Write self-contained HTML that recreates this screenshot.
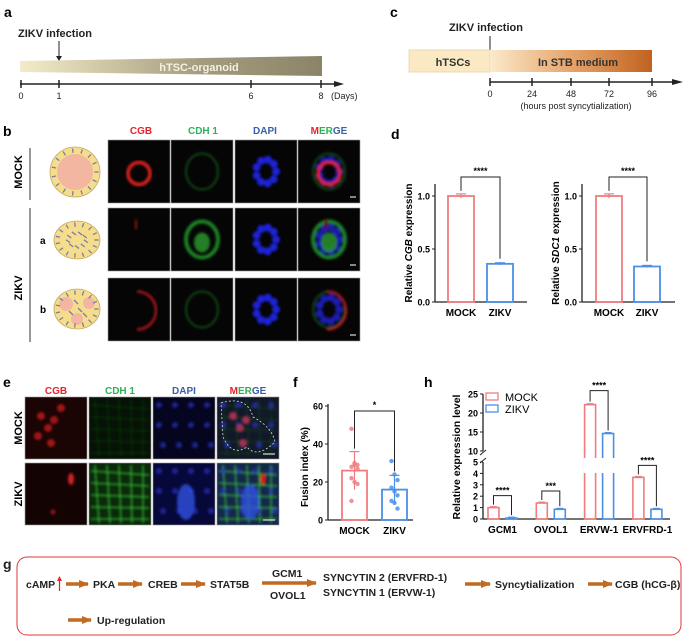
<!DOCTYPE html>
<html><head><meta charset="utf-8"><style>
body{margin:0;background:#fff}
svg{display:block;font-family:"Liberation Sans",Arial,sans-serif}
.b{font-weight:bold}
</style></head><body>
<svg id="fig" width="683" height="637" viewBox="0 0 683 637" xmlns="http://www.w3.org/2000/svg">
<defs>
<linearGradient id="ga" x1="0" x2="1"><stop offset="0" stop-color="#f4ecc8"/><stop offset="0.6" stop-color="#a39c7e"/><stop offset="1" stop-color="#8c8468"/></linearGradient>
<linearGradient id="gc" x1="0" x2="1"><stop offset="0" stop-color="#fbeacb"/><stop offset="0.5" stop-color="#e6a46a"/><stop offset="1" stop-color="#c0621f"/></linearGradient>
<filter id="bl"><feGaussianBlur stdDeviation="1.4"/></filter>
<marker id="ah" markerUnits="userSpaceOnUse" markerWidth="10" markerHeight="8" refX="9" refY="4" orient="auto"><path d="M0,0L10,4L0,8z" fill="#c06a22"/></marker>
</defs>

<!-- panel a -->
<g>
<text x="4" y="17" class="b" font-size="14">a</text>
<text x="18" y="37" class="b" font-size="11" fill="#222">ZIKV infection</text>
<line x1="59" y1="41" x2="59" y2="60" stroke="#222"/><path d="M56,56L59,61L62,56z" fill="#222"/>
<polygon points="20,61 322,56 322,76 20,72" fill="url(#ga)"/>
<text x="199" y="71" text-anchor="middle" class="b" font-size="11" fill="#f5f0e0">hTSC-organoid</text>
<line x1="20" y1="84" x2="338" y2="84" stroke="#222" stroke-width="1.5"/><path d="M334,81L344,84L334,87z" fill="#222"/>
<g stroke="#222" stroke-width="1.5"><line x1="21" y1="80" x2="21" y2="88"/><line x1="59" y1="80" x2="59" y2="88"/><line x1="251" y1="80" x2="251" y2="88"/><line x1="321" y1="80" x2="321" y2="88"/></g>
<g font-size="9" text-anchor="middle" fill="#222"><text x="21" y="99">0</text><text x="59" y="99">1</text><text x="251" y="99">6</text><text x="321" y="99">8</text></g>
<text x="331" y="99" font-size="9" fill="#222">(Days)</text>
</g>

<!-- panel c -->
<g>
<text x="390" y="17" class="b" font-size="14">c</text>
<text x="449" y="31" class="b" font-size="11" fill="#222">ZIKV infection</text>
<line x1="490" y1="36" x2="490" y2="56" stroke="#222"/><path d="M487,52L490,57L493,52z" fill="#222"/>
<rect x="409" y="50" width="81" height="22" fill="#fbe9c4" stroke="#e8d3a8" stroke-width="0.8"/>
<rect x="490" y="50" width="162" height="22" fill="url(#gc)"/>
<text x="453" y="66" text-anchor="middle" class="b" font-size="11" fill="#333">hTSCs</text>
<text x="578" y="66" text-anchor="middle" class="b" font-size="11" fill="#333">In STB medium</text>
<line x1="490" y1="82" x2="676" y2="82" stroke="#222" stroke-width="1.5"/><path d="M672,79L683,82L672,85z" fill="#222"/>
<g stroke="#222" stroke-width="1.5"><line x1="490" y1="78" x2="490" y2="86"/><line x1="532" y1="78" x2="532" y2="86"/><line x1="571" y1="78" x2="571" y2="86"/><line x1="609" y1="78" x2="609" y2="86"/><line x1="652" y1="78" x2="652" y2="86"/></g>
<g font-size="9" text-anchor="middle" fill="#222"><text x="490" y="97">0</text><text x="532" y="97">24</text><text x="571" y="97">48</text><text x="609" y="97">72</text><text x="652" y="97">96</text></g>
<text x="576" y="109" text-anchor="middle" font-size="9" fill="#222">(hours post syncytialization)</text>
</g>

<!-- panel b -->
<g>
<text x="3" y="136" class="b" font-size="14">b</text>
<g class="b" font-size="10" text-anchor="middle"><text x="141" y="134" fill="#e3242b">CGB</text><text x="203" y="134" fill="#2fb05a">CDH 1</text><text x="265" y="134" fill="#3a5fa8">DAPI</text><text x="329" y="134"><tspan fill="#e3242b">M</tspan><tspan fill="#2fb05a">ER</tspan><tspan fill="#3a5fa8">GE</tspan></text></g>
<line x1="30" y1="148" x2="30" y2="200" stroke="#333"/><line x1="30" y1="208" x2="30" y2="342" stroke="#333"/>
<text transform="translate(22,172) rotate(-90)" text-anchor="middle" class="b" font-size="11">MOCK</text>
<text transform="translate(22,288) rotate(-90)" text-anchor="middle" class="b" font-size="11">ZIKV</text>
<text x="40" y="244" class="b" font-size="10">a</text><text x="40" y="313" class="b" font-size="10">b</text>
<g id="cartoons"></g>
<g id="bimgs"></g>
</g>

<!-- panel e -->
<g>
<text x="3" y="387" class="b" font-size="14">e</text>
<g class="b" font-size="10" text-anchor="middle"><text x="56" y="394" fill="#e3242b">CGB</text><text x="120" y="394" fill="#2fb05a">CDH 1</text><text x="184" y="394" fill="#3a5fa8">DAPI</text><text x="248" y="394"><tspan fill="#e3242b">M</tspan><tspan fill="#2fb05a">ER</tspan><tspan fill="#3a5fa8">GE</tspan></text></g>
<text transform="translate(22,428) rotate(-90)" text-anchor="middle" class="b" font-size="11">MOCK</text>
<text transform="translate(22,494) rotate(-90)" text-anchor="middle" class="b" font-size="11">ZIKV</text>
<g id="eimgs"></g>
</g>

<text x="391" y="139" class="b" font-size="14">d</text>
<g id="d1"></g>
<g id="d2"></g>
<text x="293" y="387" class="b" font-size="14">f</text>
<g id="fch"></g>
<text x="424" y="387" class="b" font-size="14">h</text>
<g id="hch"></g>

<!-- panel g -->
<g class="b" font-size="10.5" fill="#222">
<text x="3" y="569" font-size="14">g</text>
<rect x="17" y="557" width="664" height="78" rx="10" fill="none" stroke="#e0353a" stroke-width="1"/>
<text x="26" y="588">cAMP</text>
<line x1="59.5" y1="591" x2="59.5" y2="580" stroke="#e3242b" stroke-width="1.2"/><path d="M57,581L59.5,576L62,581z" fill="#e3242b"/>
<g stroke="#c06a22" stroke-width="3.5" marker-end="url(#ah)">
<line x1="66" y1="584" x2="88" y2="584"/><line x1="118" y1="584" x2="142" y2="584"/><line x1="181" y1="584" x2="205" y2="584"/>
<line x1="262" y1="583" x2="316" y2="583"/><line x1="465" y1="584" x2="490" y2="584"/><line x1="588" y1="584" x2="612" y2="584"/>
<line x1="68" y1="620" x2="91" y2="620"/></g>
<text x="93" y="588">PKA</text><text x="148" y="588">CREB</text><text x="210" y="588">STAT5B</text>
<text x="272" y="577">GCM1</text><text x="270" y="599">OVOL1</text>
<text x="323" y="581">SYNCYTIN 2 (ERVFRD-1)</text><text x="323" y="596">SYNCYTIN 1 (ERVW-1)</text>
<text x="495" y="588">Syncytialization</text><text x="615" y="588">CGB (hCG-β)</text>
<text x="97" y="624">Up-regulation</text>
</g>
</svg>
<script>
const NS="http://www.w3.org/2000/svg";
function mk(p,tag,at){const e=document.createElementNS(NS,tag);for(const k in at)e.setAttribute(k,at[k]);p.appendChild(e);return e;}
const RED="#f07c80",BLUE="#4a90e8";

// ---- chart data ----
const dCategories=["MOCK","ZIKV"];
const dCgbValues=[1.0,0.36];
const dCgbErr=[0.02,0.01];
const dSdcValues=[1.0,0.335];
const dSdcErr=[0.02,0.01];
const dTicks=[0.0,0.5,1.0];
const fCategories=["MOCK","ZIKV"];
const fMeans=[26,16];
const fSD=[10,7.5];
const fMockDots=[48,30,29,28,29,27,22,20,19,10];
const fZikvDots=[31,24,21,17,15,13,10,9,6];
const fTicks=[0,20,40,60];
const hCategories=["GCM1","OVOL1","ERVW-1","ERVFRD-1"];
const hMock=[1.0,1.4,22.2,3.65];
const hZikv=[0.08,0.85,14.6,0.85];
const hSig=["****","***","****","****"];
const hLowTicks=[0,1,2,3,4,5];
const hHighTicks=[10,15,20,25];

function barChart(g,x0,y0,yTop,xEnd,sc,cats,vals,errs,ticks,fmt,title,bars,sig){
  const y=v=>y0-(v-0)*sc;
  mk(g,"line",{x1:x0,y1:yTop,x2:x0,y2:y0,stroke:"#222","stroke-width":1.3});
  mk(g,"line",{x1:x0,y1:y0,x2:xEnd,y2:y0,stroke:"#222","stroke-width":1.3});
  ticks.forEach(t=>{mk(g,"line",{x1:x0-3,y1:y(t),x2:x0,y2:y(t),stroke:"#222"});
    const tx=mk(g,"text",{x:x0-5,y:y(t)+3.5,"text-anchor":"end","font-size":9,"font-weight":"bold"});tx.textContent=fmt(t);});
  const cols=[RED,BLUE];
  cats.forEach((c,i)=>{const [bx,bw]=bars[i];
    const r=mk(g,"rect",{x:bx,y:y(vals[i]),width:bw,height:y0-y(vals[i]),fill:"none",stroke:cols[i],"stroke-width":1.8});
    
    
    const cx=bx+bw/2;
    mk(g,"line",{x1:cx,y1:y(vals[i]+errs[i]),x2:cx,y2:y(vals[i]-errs[i]),stroke:cols[i],"stroke-width":1.2});
    mk(g,"line",{x1:cx-5,y1:y(vals[i]+errs[i]),x2:cx+5,y2:y(vals[i]+errs[i]),stroke:cols[i],"stroke-width":1.2});
    const lt=mk(g,"text",{x:cx,y:y0+14,"text-anchor":"middle","font-size":10,"font-weight":"bold"});lt.textContent=c;});
  if(sig){const c0=bars[0][0]+bars[0][1]/2,c1=bars[1][0]+bars[1][1]/2;
    mk(g,"polyline",{points:`${c0},${y(vals[0]+errs[0])-3} ${c0},${sig.top} ${c1},${sig.top} ${c1},${y(vals[1]+errs[1])-4}`,fill:"none",stroke:"#222","stroke-width":1});
    const st=mk(g,"text",{x:(c0+c1)/2,y:sig.top-3,"text-anchor":"middle","font-size":9,"font-weight":"bold"});st.textContent=sig.text;}
  return y;
}
function dTitle(g,x,yc,it){const t=mk(g,"text",{transform:`translate(${x},${yc}) rotate(-90)`,"text-anchor":"middle","font-size":10,"font-weight":"bold"});
  t.innerHTML='Relative <tspan font-style="italic">'+it+'</tspan> expression';}
barChart(document.getElementById("d1"),435,302,184,527,106,dCategories,dCgbValues,dCgbErr,dTicks,t=>t.toFixed(1),"",[[448,26],[487,26]],{top:177,text:"****"});
dTitle(document.getElementById("d1"),412,243,"CGB");
barChart(document.getElementById("d2"),582,302,184,675,106,dCategories,dSdcValues,dSdcErr,dTicks,t=>t.toFixed(1),"",[[596,26],[634,26]],{top:177,text:"****"});
dTitle(document.getElementById("d2"),559,243,"SDC1");

// f chart
(function(){const g=document.getElementById("fch");
  const y=barChart(g,328,520,404,413,1.9,fCategories,fMeans,fSD,fTicks,t=>String(t),"",[[342,25],[382,25]],{top:411,text:"*"});
  const t=mk(g,"text",{transform:"translate(308,467) rotate(-90)","text-anchor":"middle","font-size":10,"font-weight":"bold"});t.textContent="Fusion index (%)";
  [[fMockDots,354.5,RED],[fZikvDots,394.5,BLUE]].forEach(([d,cx,c])=>d.forEach((v,i)=>{
    const p=mk(g,"circle",{cx:cx+((i%3)-1)*3,cy:y(v),r:2.2,fill:c,opacity:0.85});
    
    }));
})();

// h chart (broken axis)
(function(){const g=document.getElementById("hch");
  const x0=483,y0=519,lowSc=11.4,hiBase=451,hiSc=3.8;
  const y=v=>v<=5?y0-v*lowSc:hiBase-(v-10)*hiSc;
  mk(g,"line",{x1:x0,y1:y0,x2:x0,y2:y(5),stroke:"#222","stroke-width":1.3});
  mk(g,"line",{x1:x0,y1:y(10),x2:x0,y2:y(25),stroke:"#222","stroke-width":1.3});
  mk(g,"line",{x1:x0-3,y1:y(10)+4,x2:x0+3,y2:y(10)-1,stroke:"#222"});
  mk(g,"line",{x1:x0-3,y1:y(5)+1,x2:x0+3,y2:y(5)-4,stroke:"#222"});
  mk(g,"line",{x1:x0,y1:y0,x2:670,y2:y0,stroke:"#222","stroke-width":1.3});
  hLowTicks.concat(hHighTicks).forEach(t=>{mk(g,"line",{x1:x0-3,y1:y(t),x2:x0,y2:y(t),stroke:"#222"});
    const tx=mk(g,"text",{x:x0-5,y:y(t)+3.5,"text-anchor":"end","font-size":9,"font-weight":"bold"});tx.textContent=t;});
  const tt=mk(g,"text",{transform:"translate(460,457) rotate(-90)","text-anchor":"middle","font-size":10.5,"font-weight":"bold"});tt.textContent="Relative expression level";
  hCategories.forEach((c,i)=>{const bx=488+i*48.3;
    [[hMock[i],bx,RED],[hZikv[i],bx+18,BLUE]].forEach(([v,x,col])=>{
      const r=mk(g,"rect",{x:x,y:y(v),width:11,height:y0-y(v),fill:"none",stroke:col,"stroke-width":1.6});
      
      
      mk(g,"line",{x1:x+2,y1:y(v)-1,x2:x+9,y2:y(v)-1,stroke:col,"stroke-width":1});});
    if(hMock[i]>5){mk(g,"rect",{x:bx-1,y:y(5)-4,width:32,height:y(5)-y(10)+4,fill:"#fff"});}
    const top=y(Math.max(hMock[i],hZikv[i]))-(hMock[i]>5?14:12);
    mk(g,"polyline",{points:`${bx+5.5},${y(hMock[i])-3} ${bx+5.5},${top} ${bx+23.5},${top} ${bx+23.5},${y(hZikv[i])-3}`,fill:"none",stroke:"#222","stroke-width":1});
    const s=mk(g,"text",{x:bx+14.5,y:top-2,"text-anchor":"middle","font-size":9,"font-weight":"bold"});s.textContent=hSig[i];
    const l=mk(g,"text",{x:bx+14.5,y:533,"text-anchor":"middle","font-size":10,"font-weight":"bold"});l.textContent=c;});
  mk(g,"rect",{x:486,y:393,width:12,height:7,fill:"none",stroke:RED,"stroke-width":1.3});
  mk(g,"rect",{x:486,y:405,width:12,height:7,fill:"none",stroke:BLUE,"stroke-width":1.3});
  const l1=mk(g,"text",{x:505,y:401,"font-size":11});l1.textContent="MOCK";
  const l2=mk(g,"text",{x:505,y:413,"font-size":11});l2.textContent="ZIKV";
})();

// cartoons
(function(){const g=document.getElementById("cartoons");
  [[75,172,25,25],[77,240,23,19],[77,309,23,20]].forEach(([cx,cy,rx,ry],k)=>{
    const e=mk(g,"ellipse",{cx:cx,cy:cy,rx:rx,ry:ry,fill:"#f6dd8e",stroke:"#c9a85a","stroke-width":0.8});
    
    
    if(k===0)mk(g,"ellipse",{cx:cx,cy:cy,rx:rx-7,ry:ry-7,fill:"#f3b6a0"});
    if(k===2){mk(g,"circle",{cx:cx-11,cy:cy-5,r:7,fill:"#f3b6a0"});mk(g,"circle",{cx:cx+12,cy:cy-6,r:6,fill:"#f3b6a0"});mk(g,"circle",{cx:cx,cy:cy+10,r:6,fill:"#f3b6a0"});}
    for(let a=0;a<360;a+=24){const r=(a*Math.PI/180);const px=cx+Math.cos(r)*(rx-3.5),py=cy+Math.sin(r)*(ry-3.5);
      mk(g,"line",{x1:px-Math.cos(r)*2.2,y1:py-Math.sin(r)*2.2,x2:px+Math.cos(r)*2.2,y2:py+Math.sin(r)*2.2,stroke:"#7a7f9f","stroke-width":1.3});}
    if(k===1){for(let a=10;a<360;a+=40){const r=a*Math.PI/180;const px=cx+Math.cos(r)*9,py=cy+Math.sin(r)*7;
      mk(g,"line",{x1:px-2,y1:py-1.5,x2:px+2,y2:py+1.5,stroke:"#7a7f9f","stroke-width":1.3});}}
    if(k===2){[[cx-1,cy-7],[cx+3,cy+1],[cx-6,cy+4],[cx+8,cy+6]].forEach(([px,py])=>mk(g,"line",{x1:px-2,y1:py-2,x2:px+2,y2:py+2,stroke:"#7a7f9f","stroke-width":1.3}));}
  });
})();

// micrographs
function micro(g,x,y,w,h,bg){
  const r=mk(g,"rect",{x:x,y:y,width:w,height:h,fill:bg||"#050505",stroke:"#999","stroke-width":0.6});
  
  
  const cx=x+w/2,cy=y+h/2,f=mk(g,"g",{filter:"url(#bl)"});
  return {f,cx,cy};
}
(function(){const g=document.getElementById("bimgs");
  const xs=[108,171,235,298],ys=[140,208,278],w=62,h=63;
  ys.forEach((yy,ri)=>xs.forEach((xx,ci)=>{const {f,cx,cy}=micro(g,xx,yy,w,h);
    const red=ri===0?"#e0201a":ri===1?"#5a1010":"#b0181a";
    if(ci===2||ci===3){for(let k=0;k<9;k++){const a=k*0.7;mk(f,"circle",{cx:cx+Math.cos(a)*10,cy:cy+Math.sin(a)*12,r:4,fill:"#1e22d8",opacity:ci===3?0.8:1});}}
    if(ci===1||ci===3){const op=ri===1?0.85:0.45;mk(f,"ellipse",{cx:cx,cy:cy,rx:16,ry:18,fill:"none",stroke:"#1f9a2a","stroke-width":ri===1?4:2,opacity:op});
      if(ri===1)mk(f,"ellipse",{cx:cx,cy:cy+3,rx:8,ry:10,fill:"#2a9c2a",opacity:0.8});}
    if(ci===0||ci===3){if(ri===0)mk(f,"ellipse",{cx:cx,cy:cy+2,rx:11,ry:11,fill:"none",stroke:red,"stroke-width":3.5});
      else if(ri===1)mk(f,"ellipse",{cx:cx-3,cy:cy-15,rx:2,ry:6,fill:red});
      else mk(f,"path",{d:`M${cx-2},${cy-18} A18,18 0 0 1 ${cx-2},${cy+20}`,fill:"none",stroke:red,"stroke-width":2.5});}
    if(ci===3){mk(g,"line",{x1:xx+w-10,y1:yy+h-6,x2:xx+w-4,y2:yy+h-6,stroke:"#ddd","stroke-width":1.2});}
  }));
})();
(function(){const g=document.getElementById("eimgs");
  const xs=[25,89,153,217],ys=[397,463],w=62,h=62;
  const bgs=[["#1a0404","#061206","#05051f","#121828"],["#140303","#0a2a0a","#06083a","#14284a"]];
  ys.forEach((yy,ri)=>xs.forEach((xx,ci)=>{const {f,cx,cy}=micro(g,xx,yy,w,h,bgs[ri][ci]);
    if(ci===0){if(ri===0){[[-15,-12],[-8,0],[-18,8],[-5,15],[5,-20],[-2,-8]].forEach(([dx,dy])=>mk(f,"circle",{cx:cx+dx,cy:cy+dy,r:4,fill:"#a01818"}));}
      else{mk(f,"ellipse",{cx:cx+15,cy:cy-15,rx:3,ry:6,fill:"#d02020"});mk(f,"circle",{cx:cx-3,cy:cy+18,r:2.5,fill:"#901515"});}}
    if(ci===1||ci===3){const c=ri===1?"#3cc43a":"#1f7a22";
      for(let k=0;k<5;k++){mk(f,"line",{x1:xx+2,y1:yy+8+k*12,x2:xx+w-2,y2:yy+12+k*11,stroke:c,"stroke-width":ri?1.3:0.7,opacity:ri?0.9:0.5});
        mk(f,"line",{x1:xx+6+k*12,y1:yy+2,x2:xx+10+k*11,y2:yy+h-2,stroke:c,"stroke-width":ri?1.3:0.7,opacity:ri?0.9:0.5});}}
    if(ci===2||ci===3){for(let k=0;k<12;k++){mk(f,"circle",{cx:xx+6+(k%4)*16+(k>7?4:0),cy:yy+8+Math.floor(k/4)*20,r:3,fill:"#2a30c0",opacity:0.7});}
      if(ri===1)mk(f,"ellipse",{cx:cx+2,cy:cy+8,rx:9,ry:18,fill:"#3050e0",opacity:0.8});}
    if(ci===3&&ri===0){[[-15,-12],[-8,0],[-5,15],[-2,-8]].forEach(([dx,dy])=>mk(f,"circle",{cx:cx+dx,cy:cy+dy,r:4,fill:"#a03050"}));
      mk(g,"path",{d:`M${xx+4},${yy+6} Q${xx+30},${yy-2} ${xx+36},${yy+20} Q${xx+55},${yy+30} ${xx+58},${yy+45} Q${xx+40},${yy+62} ${xx+30},${yy+50} Q${xx+15},${yy+60} ${xx+6},${yy+40} Z`,fill:"none",stroke:"#ddd","stroke-width":0.8,"stroke-dasharray":"2,2"});}
    if(ci===3&&ri===1)mk(f,"ellipse",{cx:cx+15,cy:cy-15,rx:3,ry:6,fill:"#d02020"});
    if(ci===3)mk(g,"line",{x1:xx+w-16,y1:yy+h-5,x2:xx+w-4,y2:yy+h-5,stroke:"#ddd","stroke-width":1.2});
  }));
})();
</script>
</body></html>
